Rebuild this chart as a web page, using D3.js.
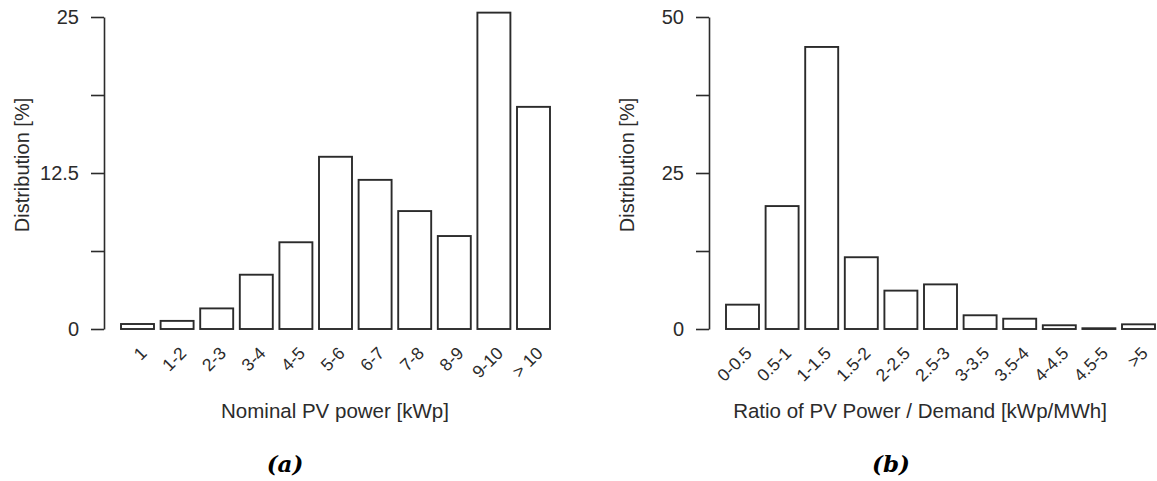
<!DOCTYPE html>
<html>
<head>
<meta charset="utf-8">
<script src="https://cdn.jsdelivr.net/npm/d3@7"></script>
<style>
  html, body { margin: 0; padding: 0; background: #fff; }
  svg { display: block; }
  .tick text { font-family: "Liberation Sans", Arial, sans-serif; }
</style>
</head>
<body>
<svg id="chart" width="1157" height="481"></svg>
<script>
// Panel (a): share of installations by nominal PV power
const powerCats = ["1", "1-2", "2-3", "3-4", "4-5", "5-6", "6-7", "7-8", "8-9", "9-10", "> 10"];
const powerShare = [0.4, 0.65, 1.65, 4.35, 6.95, 13.8, 11.95, 9.45, 7.45, 25.35, 17.8];
const powerTicks = [0, 6.25, 12.5, 18.75, 25];
const powerTickLabels = ["0", "", "12.5", "", "25"];

// Panel (b): share by ratio of PV power to annual demand
const ratioCats = ["0-0.5", "0.5-1", "1-1.5", "1.5-2", "2-2.5", "2.5-3", "3-3.5", "3.5-4", "4-4.5", "4.5-5", ">5"];
const ratioShare = [3.9, 19.7, 45.2, 11.5, 6.15, 7.15, 2.2, 1.65, 0.6, 0.12, 0.75];
const ratioTicks = [0, 12.5, 25, 37.5, 50];
const ratioTickLabels = ["0", "", "25", "", "50"];

const svg = d3.select("#chart");
const FONT = '"Liberation Sans", Arial, sans-serif';
const INK = "#2b2b2b";

function panel(opts) {
  const g = svg.append("g");
  const y = d3.scaleLinear().domain([0, opts.yMax]).range([329, 17]);
  const x = d3.scaleBand()
    .domain(opts.cats)
    .range([opts.x0, opts.x0 + opts.cats.length * 39.6])
    .paddingInner(0.167)
    .paddingOuter(0.0835);

  // y axis
  const yAxis = d3.axisLeft(y)
    .tickValues(opts.ticks)
    .tickFormat((d, i) => opts.tickLabels[i])
    .tickSize(13)
    .tickSizeOuter(0)
    .tickPadding(12);
  const ya = g.append("g")
    .attr("transform", `translate(${opts.axisX},0)`)
    .call(yAxis);
  ya.selectAll("path, line").attr("stroke", INK).attr("stroke-width", 1.6);
  ya.selectAll("text").attr("fill", INK).style("font-size", "20px").style("font-family", FONT);

  // bars
  g.selectAll("rect.bar")
    .data(opts.values)
    .join("rect")
    .attr("class", "bar")
    .attr("x", (d, i) => x(opts.cats[i]))
    .attr("width", x.bandwidth())
    .attr("y", d => y(d))
    .attr("height", d => y(0) - y(d))
    .attr("fill", "#fff")
    .attr("stroke", INK)
    .attr("stroke-width", 1.9);

  // rotated category labels
  g.selectAll("text.cat")
    .data(opts.cats)
    .join("text")
    .attr("class", "cat")
    .attr("transform", d => `translate(${x(d) + x.bandwidth() / 2 + 6},${350}) rotate(-45)`)
    .attr("text-anchor", "end")
    .attr("dy", "0.35em")
    .attr("fill", INK)
    .style("font-family", FONT)
    .style("font-size", "17.5px")
    .text(d => d);

  // axis titles
  g.append("text")
    .attr("x", opts.titleX)
    .attr("y", 418)
    .attr("text-anchor", "middle")
    .attr("fill", INK)
    .style("font-family", FONT)
    .style("font-size", "20.5px")
    .text(opts.xTitle);

  g.append("text")
    .attr("transform", `translate(${opts.ylabX},${165}) rotate(-90)`)
    .attr("text-anchor", "middle")
    .attr("fill", INK)
    .style("font-family", FONT)
    .style("font-size", "20px")
    .text("Distribution [%]");

  g.append("text")
    .attr("x", opts.capX)
    .attr("y", 472)
    .attr("text-anchor", "middle")
    .attr("fill", "#000")
    .style("font-family", '"DejaVu Serif", serif')
    .style("font-weight", "bold")
    .style("font-style", "italic")
    .style("font-size", "23px")
    .text(opts.caption);
}

panel({
  cats: powerCats, values: powerShare, yMax: 25,
  ticks: powerTicks, tickLabels: powerTickLabels,
  axisX: 104, x0: 117.7, titleX: 335, ylabX: 29, capX: 285,
  xTitle: "Nominal PV power [kWp]", caption: "(a)"
});

panel({
  cats: ratioCats, values: ratioShare, yMax: 50,
  ticks: ratioTicks, tickLabels: ratioTickLabels,
  axisX: 709, x0: 722.7, titleX: 920, ylabX: 634, capX: 891,
  xTitle: "Ratio of PV Power / Demand [kWp/MWh]", caption: "(b)"
});
</script>
</body>
</html>
